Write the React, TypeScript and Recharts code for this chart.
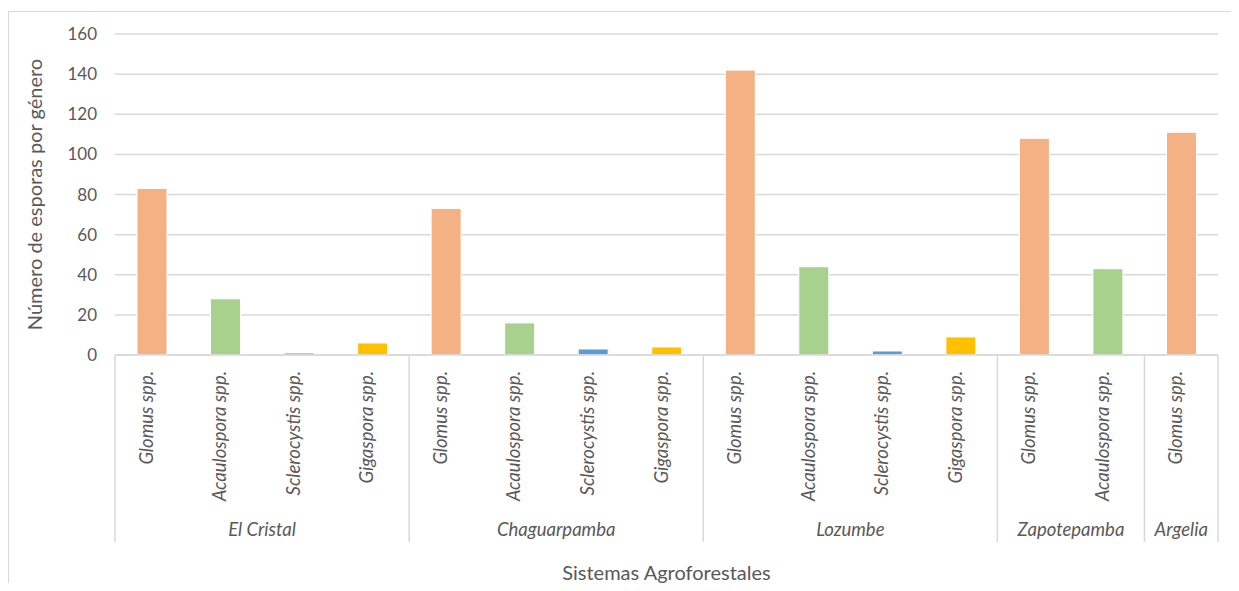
import { BarChart, Bar, XAxis, YAxis, CartesianGrid, Cell, Label } from 'recharts';

const sites = ['El Cristal', 'Chaguarpamba', 'Lozumbe', 'Zapotepamba', 'Argelia'];
const genera = ['Glomus spp.', 'Acaulospora spp.', 'Sclerocystis spp.', 'Gigaspora spp.'];
const elCristal = [83, 28, 1, 6];
const chaguarpamba = [73, 16, 3, 4];
const lozumbe = [142, 44, 2, 9];
const zapotepamba = [108, 43];
const argelia = [111];
const yTicks = [0, 20, 40, 60, 80, 100, 120, 140, 160];

const COLORS: Record<string, string> = {
  'Glomus spp.': '#F4B183',
  'Acaulospora spp.': '#A9D18E',
  'Sclerocystis spp.': '#5B9BD5',
  'Gigaspora spp.': '#FFC000',
};

const data = [elCristal, chaguarpamba, lozumbe, zapotepamba, argelia].flatMap((vals, s) =>
  vals.map((v, g) => ({
    id: `${s}-${g}`,
    site: sites[s],
    genus: genera[g],
    value: v,
    first: g === 0,
    size: vals.length,
  }))
);

const W = 1222;
const H = 571;
const M = { top: 22, right: 13, bottom: 0, left: 0 };
const Y_W = 106;
const BAND = (W - M.left - M.right - Y_W) / data.length;
const FONT = 'Lato, "Open Sans", sans-serif';
const TXT = '#595959';
const LINE = '#d9d9d9';

function GenusTick(props: any) {
  const { x, y, payload } = props;
  const i = data.findIndex((d) => d.id === payload.value);
  const row = data[i];
  if (!row) return null;
  const left = x - BAND / 2;
  return (
    <g>
      <text
        x={x + 1}
        y={y + 16}
        transform={`rotate(-90, ${x + 1}, ${y + 16})`}
        textAnchor="end"
        fill={TXT}
        fontSize={18.5}
        fontStyle="italic"
        fontFamily={FONT}
      >
        {row.genus}
      </text>
      {row.first && (
        <>
          <line x1={left} x2={left} y1={y} y2={y + 187} stroke={LINE} strokeWidth={1.5} />
          <text
            x={left + (row.size * BAND) / 2}
            y={y + 181}
            textAnchor="middle"
            fill={TXT}
            fontSize={18.5}
            fontStyle="italic"
            fontFamily={FONT}
          >
            {row.site}
          </text>
        </>
      )}
      {i === data.length - 1 && (
        <line x1={x + BAND / 2} x2={x + BAND / 2} y1={y} y2={y + 187} stroke={LINE} strokeWidth={1.5} />
      )}
    </g>
  );
}

export default function App() {
  return (
    <div style={{ paddingTop: 3 }}>
      <div
        style={{
          width: W,
          height: H,
          borderTop: `1px solid ${LINE}`,
          borderLeft: `1px solid ${LINE}`,
          overflow: 'hidden',
          background: '#fff',
        }}
      >
        <BarChart width={W} height={H} data={data} margin={M} barSize={30}>
          <CartesianGrid vertical={false} stroke={LINE} strokeWidth={1.5} />
          <YAxis
            domain={[0, 160]}
            ticks={yTicks}
            width={Y_W}
            axisLine={false}
            tickLine={false}
            tickSize={0}
            tickMargin={18}
            tick={{ fill: TXT, fontSize: 17, fontFamily: FONT }}
          >
            <Label
              content={(p: any) => {
                const vb = p.viewBox;
                const cx = vb.x + 33;
                const cy = vb.y + vb.height / 2;
                return (
                  <text
                    x={cx}
                    y={cy}
                    transform={`rotate(-90, ${cx}, ${cy})`}
                    textAnchor="middle"
                    fill={TXT}
                    fontSize={20}
                    fontFamily={FONT}
                  >
                    Número de esporas por género
                  </text>
                );
              }}
            />
          </YAxis>
          <XAxis
            dataKey="id"
            height={228}
            interval={0}
            tickLine={false}
            tickSize={0}
            tickMargin={0}
            axisLine={{ stroke: LINE, strokeWidth: 1.5 }}
            tick={<GenusTick />}
          >
            <Label
              content={(p: any) => {
                const vb = p.viewBox;
                return (
                  <text
                    x={vb.x + vb.width / 2}
                    y={vb.y + 225}
                    textAnchor="middle"
                    fill={TXT}
                    fontSize={20}
                    fontFamily={FONT}
                  >
                    Sistemas Agroforestales
                  </text>
                );
              }}
            />
          </XAxis>
          <Bar dataKey="value" isAnimationActive={false} stroke="#fff" strokeWidth={1}>
            {data.map((d) => (
              <Cell key={d.id} fill={COLORS[d.genus]} />
            ))}
          </Bar>
        </BarChart>
      </div>
    </div>
  );
}
